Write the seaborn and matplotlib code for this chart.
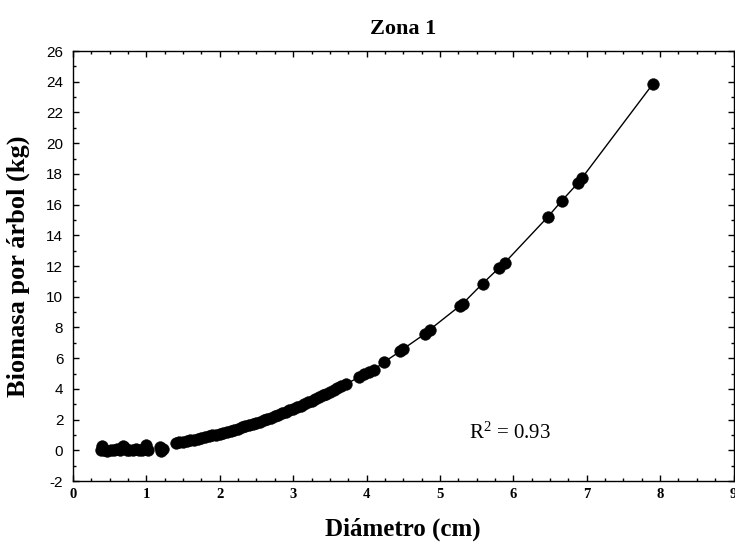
import matplotlib
matplotlib.use("Agg")
import matplotlib.pyplot as plt
from matplotlib.ticker import MultipleLocator
import seaborn as sns
import pandas as pd

# ---- data ----
low_x = [0.38, 0.40, 0.42, 0.47, 0.52, 0.56, 0.60, 0.64, 0.68, 0.70, 0.73,
         0.77, 0.82, 0.86, 0.90, 0.94, 0.98, 1.00, 1.02, 1.18, 1.20, 1.22]
low_y = [0.00, 0.25, 0.05, -0.05, 0.00, 0.05, 0.10, 0.00, 0.30, 0.20, 0.00,
         0.05, 0.00, 0.10, 0.00, 0.05, 0.10, 0.35, 0.00, 0.20, -0.05, 0.10]

curve_x = [1.40, 1.45, 1.50, 1.55, 1.60, 1.65, 1.70, 1.75, 1.80, 1.85, 1.90,
           1.95, 2.00, 2.05, 2.10, 2.15, 2.20, 2.25, 2.30, 2.35, 2.40, 2.45,
           2.50, 2.55, 2.60, 2.65, 2.70, 2.75, 2.80, 2.85, 2.90, 2.95, 3.00,
           3.05, 3.10, 3.15, 3.20, 3.25, 3.30, 3.35, 3.40, 3.45, 3.50, 3.55,
           3.60, 3.65, 3.72, 3.90, 3.97, 4.03, 4.10, 4.24, 4.46, 4.50, 4.80,
           4.86, 5.27, 5.31, 5.58, 5.81, 5.88, 6.47, 6.66, 6.88, 6.93, 7.90]
curve_y = [0.49, 0.53, 0.57, 0.61, 0.66, 0.70, 0.75, 0.80, 0.86, 0.91, 0.97,
           1.02, 1.08, 1.15, 1.21, 1.27, 1.34, 1.41, 1.49, 1.56, 1.64, 1.71,
           1.79, 1.87, 1.96, 2.04, 2.13, 2.22, 2.31, 2.40, 2.50, 2.60, 2.70,
           2.80, 2.91, 3.01, 3.12, 3.23, 3.34, 3.45, 3.57, 3.69, 3.81, 3.93,
           4.06, 4.18, 4.30, 4.78, 4.95, 5.10, 5.25, 5.75, 6.45, 6.60, 7.60,
           7.85, 9.40, 9.55, 10.85, 11.90, 12.20, 15.20, 16.25, 17.40, 17.70, 23.85]

x_ticks = [0, 1, 2, 3, 4, 5, 6, 7, 8, 9]
y_ticks = [-2, 0, 2, 4, 6, 8, 10, 12, 14, 16, 18, 20, 22, 24, 26]

title = "Zona 1"
xlabel = "Diámetro (cm)"
ylabel = "Biomasa por árbol (kg)"
r2_text = r"R$^{2}$ = 0.93"

# ---- figure ----
sns.set_style("ticks")
plt.rcParams["font.family"] = ["Liberation Serif", "DejaVu Serif"]
plt.rcParams["axes.unicode_minus"] = False
plt.rcParams["mathtext.fontset"] = "custom"
plt.rcParams["mathtext.rm"] = "Liberation Serif"
plt.rcParams["mathtext.it"] = "Liberation Serif:italic"
plt.rcParams["mathtext.bf"] = "Liberation Serif:bold"
for k in ["text.color", "axes.labelcolor", "xtick.color", "ytick.color",
          "axes.edgecolor"]:
    plt.rcParams[k] = "black"

fig = plt.figure(figsize=(7.35, 5.44), dpi=100)
ax = fig.add_axes([0.0993, 0.1158, 0.8987, 0.7904])

pts = pd.DataFrame({"x": low_x + curve_x, "y": low_y + curve_y})
line = pd.DataFrame({"x": curve_x, "y": curve_y})

sns.lineplot(data=line, x="x", y="y", ax=ax, color="black", linewidth=1.0,
             sort=True, estimator=None, zorder=2)
sns.scatterplot(data=pts, x="x", y="y", ax=ax, color="black", s=72,
                edgecolor="black", linewidth=0.3, zorder=3)

ax.set_xlim(0, 9)
ax.set_ylim(-2, 26)
ax.set_xticks(x_ticks)
ax.set_yticks(y_ticks)
ax.xaxis.set_minor_locator(MultipleLocator(0.25))
ax.yaxis.set_minor_locator(MultipleLocator(1))
ax.tick_params(which="both", direction="in", top=True, right=True,
               width=1.0, color="black", labelcolor="black")
ax.tick_params(which="major", length=4.5)
ax.tick_params(which="minor", length=2.5)
ax.tick_params(axis="y", pad=7)
ax.tick_params(axis="x", pad=5)

for lab in ax.get_xticklabels():
    lab.set_fontfamily(["Liberation Serif"])
    lab.set_fontweight("bold")
    lab.set_fontsize(10.5)
for lab in ax.get_yticklabels():
    lab.set_fontfamily(["Liberation Sans"])
    lab.set_fontsize(11)

for sp in ax.spines.values():
    sp.set_visible(True)
    sp.set_linewidth(1.0)
    sp.set_color("black")

ax.set_xlabel(xlabel, fontsize=18, fontweight="bold", labelpad=12)
ax.set_ylabel(ylabel, fontsize=19, fontweight="bold", labelpad=12)
ax.set_title(title, fontsize=16, fontweight="bold", pad=12)
ax.text(5.4, 1.1, r2_text, fontsize=15, ha="left", va="center")

fig.savefig("out.png", dpi=100)
